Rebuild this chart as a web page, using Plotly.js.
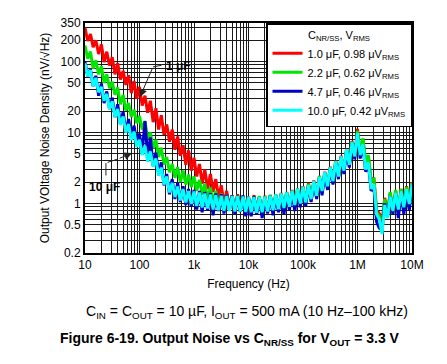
<!DOCTYPE html>
<html><head><meta charset="utf-8">
<script src="https://cdn.plot.ly/plotly-3.0.1.min.js"></script>
<style>html,body{margin:0;padding:0;background:#fff;} #chart{width:447px;height:364px;}</style>
</head><body><div id="chart"></div>
<script>
// Frequency points (Hz)
const freq = [
10,11.2,12.6,14.1,15.8,17.8,20,22.4,25.1,28.2,31.6,35.5,39.8,44.7,50.1,56.2,63.1,70.8,79.4,89.1,
100,112,126,141,158,178,200,224,251,282,316,355,398,447,501,562,631,708,794,891,
1e3,1.12e3,1.26e3,1.41e3,1.58e3,1.78e3,2e3,2.24e3,2.51e3,2.82e3,3.16e3,3.55e3,3.98e3,4.47e3,5.01e3,5.62e3,6.31e3,7.08e3,7.94e3,8.91e3,
1e4,1.12e4,1.26e4,1.41e4,1.58e4,1.78e4,2e4,2.24e4,2.51e4,2.82e4,3.16e4,3.55e4,3.98e4,4.47e4,5.01e4,5.62e4,6.31e4,7.08e4,7.94e4,8.91e4,
1e5,1.12e5,1.26e5,1.41e5,1.58e5,1.78e5,2e5,2.24e5,2.51e5,2.82e5,3.16e5,3.55e5,3.98e5,4.47e5,5.01e5,5.62e5,6.31e5,7.08e5,7.94e5,8.91e5,
1e6,1.12e6,1.26e6,1.41e6,1.58e6,1.78e6,2e6,2.24e6,2.51e6,2.82e6,3.16e6,3.55e6,3.98e6,4.47e6,5.01e6,5.62e6,6.31e6,7.08e6,7.94e6,8.91e6,
1e7];

// Noise density (nV/rtHz)
const noise1uF = [
300,195,245,160,200,128,175,98,138,88,115,66,95,56,74,47,64,36,53,30,
44,24,33,19,28,14,22,11,17.5,9.3,13,7.4,11,5.7,8.8,4.7,6.6,3.5,5.6,2.9,
4.4,2.4,3.6,1.9,3.0,1.6,2.6,1.45,2.2,1.2,1.8,1.0,1.5,0.9,1.3,0.85,1.35,0.8,1.25,0.82,
1.25,0.78,1.3,0.76,1.22,0.74,1.28,0.77,1.3,0.8,1.32,0.84,1.4,0.85,1.42,0.9,1.55,0.94,1.6,1.0,
1.75,1.02,1.95,1.12,2.1,1.25,2.4,1.45,2.8,1.7,3.3,2.0,4.0,2.35,4.7,2.85,5.9,3.5,7.6,4.6,
11.2,5.0,8.0,3.6,4.6,2.0,2.3,0.8,0.72,0.52,1.2,0.75,1.4,0.85,1.5,0.84,1.6,0.92,1.75,1.05,
2.0];
const noise2_2uF = [
168,110,138,80,104,66,86,50,66,42,52,34,43,25,34,20.5,26,16.5,21,13.5,
17,11,14.5,8.2,10,6,7.9,4.5,6.1,3.5,4.5,2.75,3.6,2.3,3.25,2.0,2.9,1.85,2.55,1.7,
2.4,1.5,2.15,1.33,1.9,1.17,1.68,1.02,1.5,0.92,1.38,0.86,1.32,0.83,1.28,0.8,1.3,0.8,1.27,0.79,
1.22,0.77,1.26,0.75,1.27,0.76,1.25,0.78,1.33,0.79,1.35,0.82,1.38,0.87,1.45,0.88,1.5,0.95,1.63,0.98,
1.72,1.0,1.9,1.1,2.05,1.22,2.45,1.42,2.75,1.72,3.25,2.02,3.95,2.4,4.6,2.8,5.8,3.55,7.4,4.5,
10.5,5.2,8.3,3.8,4.8,2.1,2.2,0.75,0.66,0.5,1.15,0.7,1.45,0.8,1.55,0.8,1.6,0.85,1.7,1.0,
1.95];
const noise4_7uF = [
100,62,78,45,63,33,49,26,38,21.5,31,16.5,25,13,19.5,10.2,15.5,8.2,12.5,7.2,
9.6,5.2,14.5,4.6,8.5,3.4,5.2,2.6,3.8,1.8,2.6,1.35,2.2,1.15,1.95,1.05,1.75,0.95,1.6,0.9,
1.55,0.82,1.5,0.75,1.45,0.8,1.4,0.68,1.38,0.78,1.35,0.72,1.32,0.8,1.3,0.7,1.28,0.76,1.3,0.66,
1.2,0.66,1.25,0.7,1.22,0.62,1.2,0.72,1.28,0.68,1.3,0.75,1.35,0.7,1.4,0.8,1.45,0.78,1.55,0.88,
1.68,0.92,1.8,1.05,2.0,1.15,2.3,1.3,2.7,1.55,3.1,1.85,3.8,2.2,4.5,2.6,5.6,3.2,7.2,4.2,
9.5,4.3,6.5,2.8,3.6,1.5,1.7,0.55,0.45,0.42,1.0,0.65,1.25,0.7,1.35,0.62,1.45,0.7,1.5,0.8,
1.8];
const noise10uF = [
95,62,76,45,59,37,44,28,35,21.5,27.5,16.5,21.5,12.8,16.8,10,13.2,7.8,10.3,6.3,
7.9,4.8,6.5,3.9,5.4,3.3,4.3,2.45,3.2,1.85,2.4,1.43,1.95,1.23,1.73,1.1,1.59,1.03,1.49,0.98,
1.47,0.92,1.42,0.88,1.38,0.85,1.33,0.82,1.3,0.8,1.28,0.79,1.27,0.78,1.27,0.77,1.26,0.77,1.25,0.76,
1.24,0.75,1.22,0.74,1.22,0.75,1.24,0.77,1.28,0.8,1.33,0.83,1.38,0.86,1.43,0.9,1.51,0.95,1.6,1.0,
1.7,1.03,1.8,1.15,2.05,1.28,2.35,1.5,2.75,1.75,3.2,2.05,3.9,2.4,4.6,2.9,5.8,3.5,7.3,4.6,
9.8,4.8,6.8,3.0,3.8,1.6,1.85,0.7,0.6,0.37,0.95,0.62,1.25,0.78,1.4,0.82,1.48,0.88,1.58,0.98,
1.85];

const seriesNames = ['1.0 μF, 0.98 μV<sub>RMS</sub>','2.2 μF, 0.62 μV<sub>RMS</sub>','4.7 μF, 0.46 μV<sub>RMS</sub>','10.0 μF, 0.42 μV<sub>RMS</sub>'];
const seriesData = [noise1uF, noise2_2uF, noise4_7uF, noise10uF];
const seriesColors = ['#ff0000','#00e600','#0000c8','#00ffff'];

// Axis ticks
const xLabelVals = [10,100,1e3,1e4,1e5,1e6,1e7];
const xLabelText = ['10','100','1k','10k','100k','1M','10M'];
const xGridVals = [20,30,40,50,60,70,80,90,200,300,400,500,600,700,800,900,
 2e3,3e3,4e3,5e3,6e3,7e3,8e3,9e3,2e4,3e4,4e4,5e4,6e4,7e4,8e4,9e4,
 2e5,3e5,4e5,5e5,6e5,7e5,8e5,9e5,2e6,3e6,4e6,5e6,6e6,7e6,8e6,9e6];
const yLabelVals = [0.2,0.5,1,2,5,10,20,50,100,200,350];
const yLabelText = ['0.2','0.5','1','2','5','10','20','50','100','200','350'];
const yGridVals = [0.3,0.4,0.6,0.7,0.8,0.9,3,4,6,7,8,9,30,40,60,70,80,90,300];

const xTickVals = xLabelVals.concat(xGridVals);
const xTickText = xLabelText.concat(xGridVals.map(() => ''));
const yTickVals = yLabelVals.concat(yGridVals);
const yTickText = yLabelText.concat(yGridVals.map(() => ''));

const FONT = 'Arial, "Liberation Sans", sans-serif';

const traces = seriesData.map((d, i) => ({
  x: freq, y: d, type: 'scatter', mode: 'lines', name: seriesNames[i],
  line: {color: seriesColors[i], width: 3}
}));

const axisCommon = {
  type: 'log', showgrid: true, gridcolor: '#1a1a1a', gridwidth: 1,
  showline: true, linecolor: '#000', linewidth: 2, mirror: true,
  ticks: '', zeroline: false, tickfont: {family: FONT, size: 12, color: '#000'}
};

function note(x, y, text, size) {
  return {xref: 'paper', yref: 'paper', x: x, y: y, text: text, showarrow: false,
          xanchor: 'center', yanchor: 'middle', font: {family: FONT, size: size, color: '#000'}};
}
function leader(x, y, ax, ay, head) {
  return {xref: 'paper', yref: 'paper', x: x, y: y, text: '', showarrow: true, ax: ax, ay: ay,
          arrowhead: head, arrowsize: 1.6, arrowwidth: 1, arrowcolor: '#222'};
}

const layout = {
  width: 447, height: 364,
  margin: {l: 85, r: 35, t: 23, b: 111},
  paper_bgcolor: '#fff', plot_bgcolor: '#fff',
  font: {family: FONT, size: 12, color: '#000'},
  xaxis: Object.assign({}, axisCommon, {
    range: [1, 7], tickvals: xTickVals, ticktext: xTickText,
    title: {text: 'Frequency (Hz)', font: {family: FONT, size: 12}, standoff: 8}
  }),
  yaxis: Object.assign({}, axisCommon, {
    range: [Math.log10(0.2), Math.log10(350)], tickvals: yTickVals, ticktext: yTickText,
    title: {text: 'Output VOltage Noise Density (nV/√Hz)', font: {family: FONT, size: 12}, standoff: 8}
  }),
  showlegend: true,
  legend: {
    x: 1, y: 1, xanchor: 'right', yanchor: 'top',
    bgcolor: '#fff', bordercolor: '#000', borderwidth: 1.5,
    font: {family: FONT, size: 11}, tracegroupgap: 0, itemwidth: 30,
    title: {text: 'C<sub>NR/SS</sub>, V<sub>RMS</sub>', side: 'top center', font: {family: FONT, size: 11}}
  },
  annotations: [
    note(0.287, 0.813, '<b>1 μF</b>', 12),
    leader(0.168, 0.678, 13, -30, 2),
    leader(0.208, 0.809, 10, -2, 0),
    note(0.061, 0.287, '<b>10 μF</b>', 12),
    leader(0.144, 0.435, -14, 6, 2),
    leader(0.101, 0.409, -12, 4, 0),
    leader(0.064, 0.391, 0, 14, 0),
    note(0.494, -0.2565, 'C<sub>IN</sub> = C<sub>OUT</sub> = 10 µF, I<sub>OUT</sub> = 500 mA (10 Hz–100 kHz)', 14),
    note(0.443, -0.374, '<b>Figure 6-19. Output Noise vs C<sub>NR/SS</sub> for V<sub>OUT</sub> = 3.3 V</b>', 14)
  ]
};

Plotly.newPlot('chart', traces, layout, {staticPlot: true, displayModeBar: false});
</script>
</body></html>
